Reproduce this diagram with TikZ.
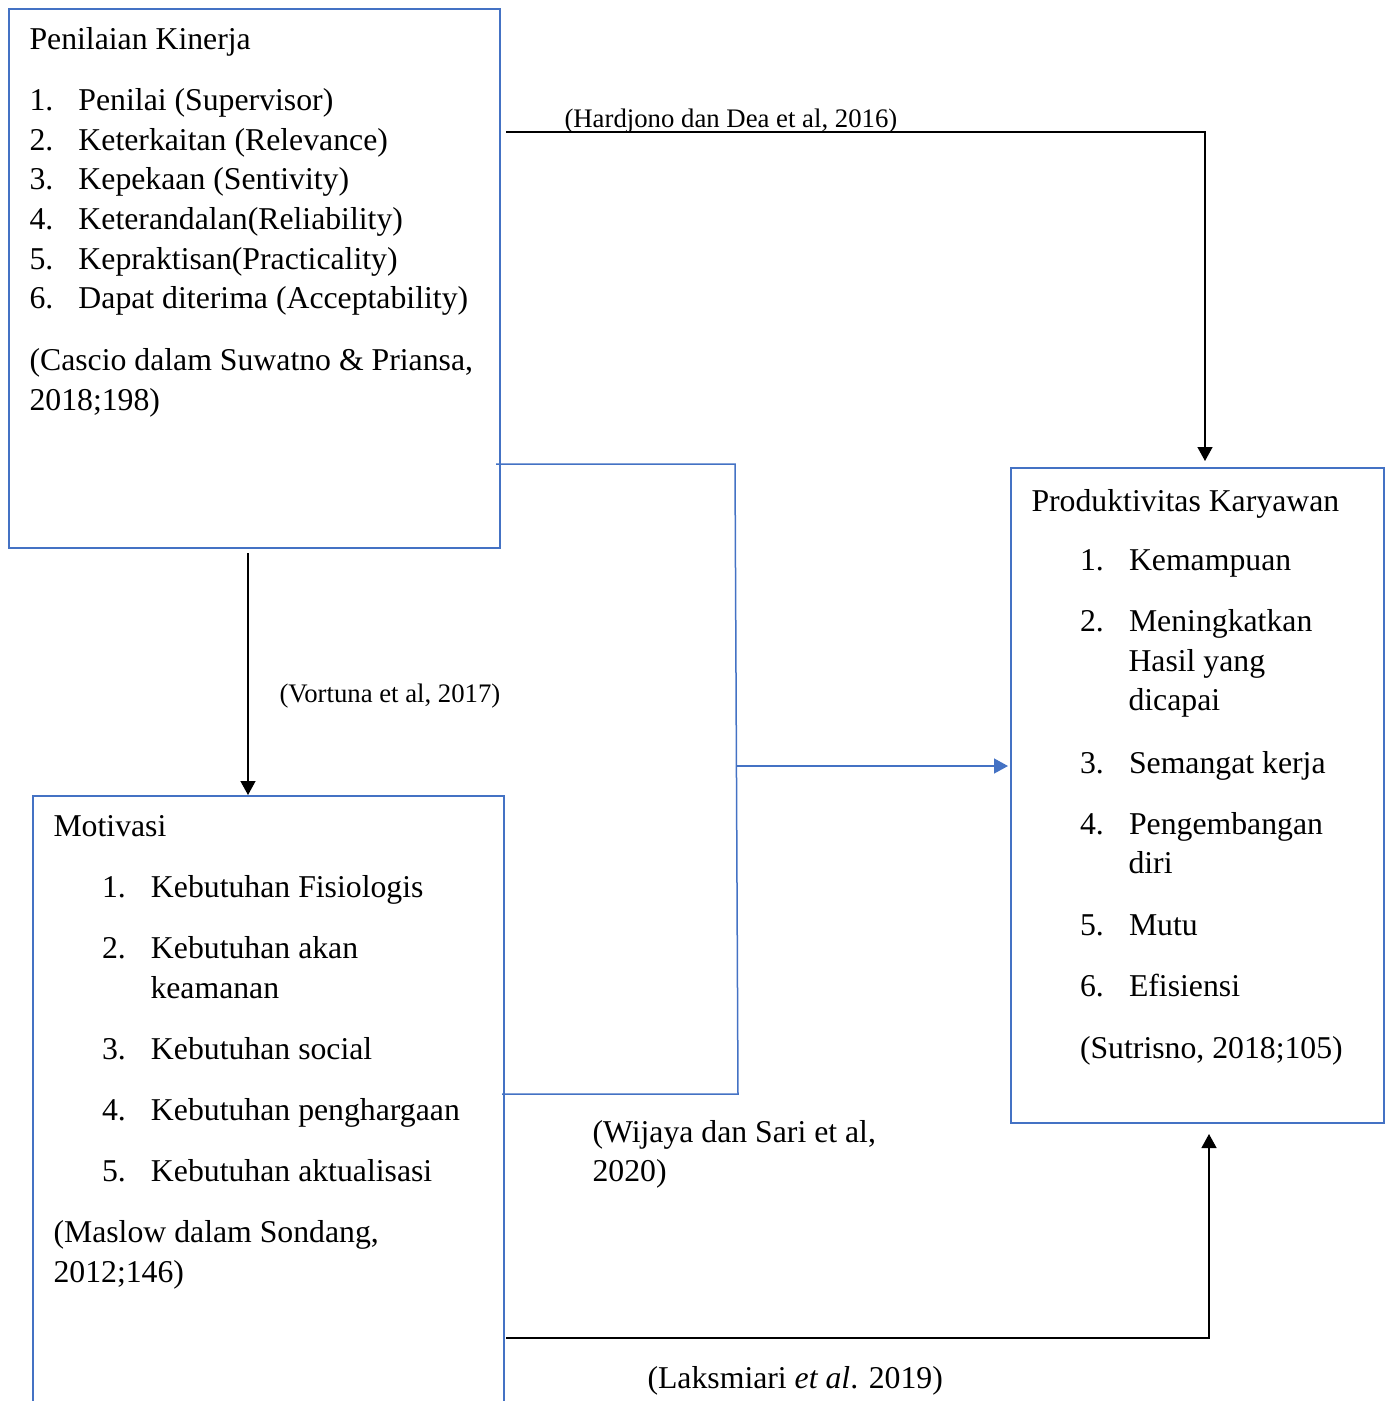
\documentclass[tikz,border=0pt]{standalone}
\usepackage{fontspec}
\setmainfont{Liberation Serif}
\usetikzlibrary{arrows.meta, positioning, fit}
\definecolor{WordBlue}{HTML}{4472C4}
\newcommand{\shift}{\hspace*{19.4pt}}
\newcommand{\numitem}[2]{\makebox[19.6pt][l]{#1}#2}

\begin{document}
\begin{tikzpicture}[x=0.4pt, y=-0.4pt, >={Triangle[width=6pt,length=5.6pt]},
  box/.style={draw=WordBlue, line width=0.8pt, inner sep=0pt},
  body/.style={anchor=base west, inner sep=0pt, font=\fontsize{12.7}{15.84}\selectfont},
  cite/.style={anchor=base west, inner sep=0pt, font=\fontsize{10.7}{13}\selectfont},
  link/.style={black, line width=0.55pt},
  bluelink/.style={WordBlue, line width=0.6pt}]
  \useasboundingbox (0,0) rectangle (1389,1401);

  \node[box, fit={(9,9) (500,548)}] (kinerja) {};
  \node[box, fit={(1011,468) (1384,1123)}] (produk) {};
  \node[box, fit={(33,796) (504,1430)}] (motivasi) {};

  \node[body] (kinerjatxt) at (29,49) {\begin{tabular}[t]{@{}l@{}}
    Penilaian Kinerja\\[8.8pt]
    \numitem{1.}{Penilai (Supervisor)}\\
    \numitem{2.}{Keterkaitan (Relevance)}\\
    \numitem{3.}{Kepekaan (Sentivity)}\\
    \numitem{4.}{Keterandalan(Reliability)}\\
    \numitem{5.}{Kepraktisan(Practicality)}\\
    \numitem{6.}{Dapat diterima (Acceptability)}\\[9pt]
    (Cascio dalam Suwatno \& Priansa,\\
    2018;198)
  \end{tabular}};

  \node[body] (produktxt) at (1031,511) {\begin{tabular}[t]{@{}l@{}}
    Produktivitas Karyawan\\[8pt]
    \shift\numitem{1.}{Kemampuan}\\[8.6pt]
    \shift\numitem{2.}{Meningkatkan}\\
    \shift\shift Hasil yang\\
    \shift\shift dicapai\\[9pt]
    \shift\numitem{3.}{Semangat kerja}\\[8.6pt]
    \shift\numitem{4.}{Pengembangan}\\
    \shift\shift diri\\[9pt]
    \shift\numitem{5.}{Mutu}\\[8.6pt]
    \shift\numitem{6.}{Efisiensi}\\[8.6pt]
    \shift(Sutrisno, 2018;105)
  \end{tabular}};

  \node[body] (motivasitxt) at (53,836) {\begin{tabular}[t]{@{}l@{}}
    Motivasi\\[8.8pt]
    \shift\numitem{1.}{Kebutuhan Fisiologis}\\[8.6pt]
    \shift\numitem{2.}{Kebutuhan akan}\\
    \shift\shift keamanan\\[8.6pt]
    \shift\numitem{3.}{Kebutuhan social}\\[8.6pt]
    \shift\numitem{4.}{Kebutuhan penghargaan}\\[8.6pt]
    \shift\numitem{5.}{Kebutuhan aktualisasi}\\[8.6pt]
    (Maslow dalam Sondang,\\
    2012;146)
  \end{tabular}};

  \coordinate (kpturn) at (1205,132);
  \draw[link, ->, shorten >=2.4pt] ([xshift=2pt]kinerja.east |- kpturn) -- (kpturn) -- (kpturn |- produk.north);
  \node[cite] (hardjono) at (564,127) {(Hardjono dan Dea et al, 2016)};

  \coordinate (kmline) at (248,0);
  \draw[link, ->, shorten <=1.6pt] (kinerja.south -| kmline) -- (motivasi.north -| kmline);
  \node[cite] (vortuna) at (279,702) {(Vortuna et al, 2017)};

  \coordinate (jtop) at (735,464);
  \coordinate (jbot) at (738,1094);
  \coordinate (jmid) at (737,766);
  \draw[bluelink] ([xshift=-2pt]kinerja.east |- jtop) -- (jtop) -- (jbot) -- ([xshift=-1.2pt]motivasi.east |- jbot);
  \draw[bluelink, ->, shorten >=0.8pt] (jmid) -- (produk.west |- jmid);
  \node[body] (wijaya) at (592,1142) {\begin{tabular}[t]{@{}l@{}}(Wijaya dan Sari et al,\\2020)\end{tabular}};

  \coordinate (mpturn) at (1209,1338);
  \draw[link, ->, shorten >=4pt] ([xshift=0.4pt]motivasi.east |- mpturn) -- (mpturn) -- (mpturn |- produk.south);
  \node[body] (laksmiari) at (647,1388) {(Laksmiari \textit{et al}. 2019)};
\end{tikzpicture}
\end{document}
